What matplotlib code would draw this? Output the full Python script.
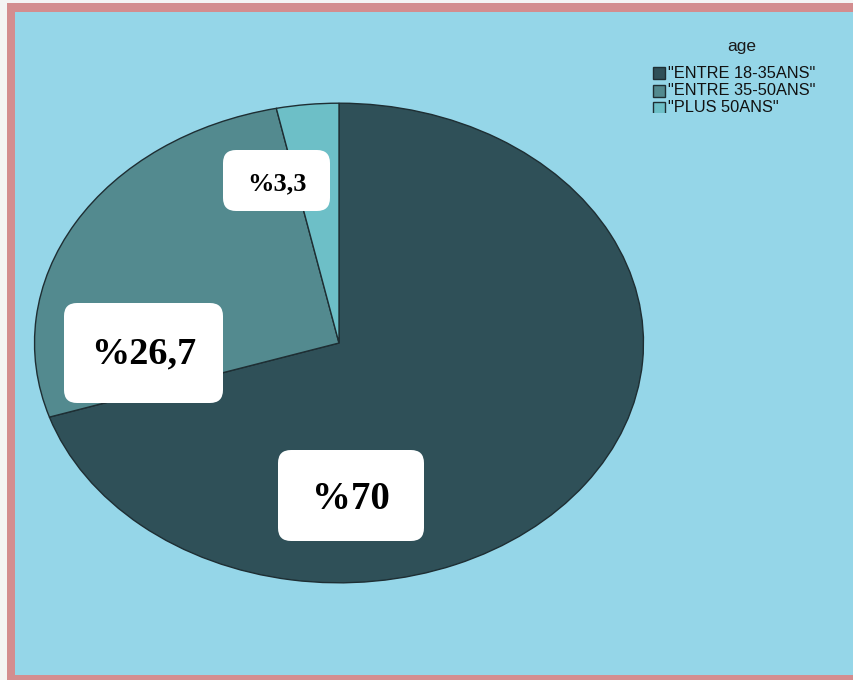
import matplotlib.pyplot as plt
import matplotlib.patches as patches

# Colours
C_PAGE = "#F4F4F4"
C_FRAME = "#D38D8F"
C_BG = "#95D6E8"
C_EDGE = "#1E2E33"
SLICE_COLORS = ["#2F5058", "#538A8F", "#6DBFC7"]

# Data
groups = ['"ENTRE 18-35ANS"', '"ENTRE 35-50ANS"', '"PLUS 50ANS"']
shares = [70.0, 26.7, 3.3]
legend_title = "age"


def fmt_share(v):
    s = f"{v:g}".replace(".", ",")
    return "%" + s


W, H = 854, 680
fig = plt.figure(figsize=(W / 100, H / 100), dpi=100, facecolor=C_PAGE)

# Background layer in pixel coordinates
bg = fig.add_axes([0, 0, 1, 1], zorder=0)
bg.set_xlim(0, W)
bg.set_ylim(H, 0)
bg.axis("off")
bg.add_patch(patches.Rectangle((7, 3), W, H, facecolor=C_FRAME, edgecolor="none"))
bg.add_patch(patches.Rectangle((15, 12), W, 663, facecolor=C_BG, edgecolor="none"))

# Pie, stretched into an ellipse (aspect left free)
cx, cy, rx, ry = 339, 343, 306, 241
pie_ax = fig.add_axes([(cx - rx) / W, (H - cy - ry) / H, 2 * rx / W, 2 * ry / H], zorder=1)
pie_ax.pie(shares, colors=SLICE_COLORS, startangle=90, counterclock=False,
           wedgeprops=dict(edgecolor=C_EDGE, linewidth=1.0))
pie_ax.set_aspect("auto")
pie_ax.set_xlim(-1.005, 1.005)
pie_ax.set_ylim(-1.005, 1.005)
pie_ax.axis("off")

# Value boxes
top = fig.add_axes([0, 0, 1, 1], zorder=2)
top.set_xlim(0, W)
top.set_ylim(H, 0)
top.axis("off")

label_boxes = [
    # x, y, w, h, fontsize, text offset
    (278, 450, 146, 91, 28, 4),
    (64, 303, 159, 100, 27.5, 1),
    (223, 150, 107, 61, 19, 3),
]
for v, (x, y, w, h, fs, dy) in zip(shares, label_boxes):
    r = 13
    top.add_patch(patches.FancyBboxPatch((x + r, y + r), w - 2 * r, h - 2 * r,
                                         boxstyle=f"round,pad={r},rounding_size={r}",
                                         facecolor="white", edgecolor="none"))
    top.text(x + w / 2, y + h / 2 + dy, fmt_share(v), ha="center", va="center",
             fontsize=fs, fontweight="bold", family="Liberation Serif", color="black")

# Legend, cut off at the bottom of its area
leg = fig.add_axes([640 / W, (H - 113) / H, (W - 640) / W, (113 - 32) / H], zorder=3)
leg.set_xlim(640, W)
leg.set_ylim(113, 32)
leg.axis("off")
leg.text(742, 46, legend_title, ha="center", va="center", fontsize=12.5,
         family="Liberation Sans", color="#1A1A1A", clip_on=True)
for i, (g, c) in enumerate(zip(groups, SLICE_COLORS)):
    yy = 73 + i * 17.5
    leg.add_patch(patches.Rectangle((653, yy - 6), 12, 12, facecolor=c,
                                    edgecolor=C_EDGE, linewidth=1.0, clip_on=True))
    leg.text(668, yy, g, ha="left", va="center", fontsize=11.8,
             family="Liberation Sans", color="#111111", clip_on=True)

fig.savefig("out.png", dpi=100, facecolor=C_PAGE)
